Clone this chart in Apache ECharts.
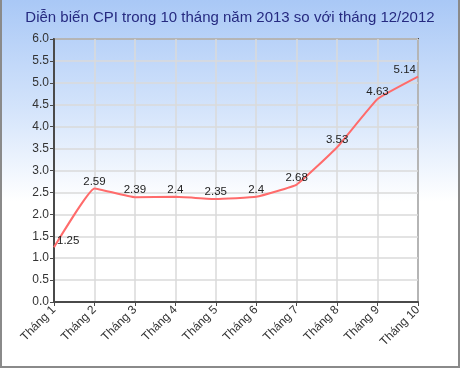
<!DOCTYPE html>
<html><head><meta charset="utf-8">
<script src="https://cdn.jsdelivr.net/npm/echarts@6/dist/echarts.min.js"></script>
<style>
html,body{margin:0;padding:0;}
#c{position:absolute;left:0;top:0;width:456px;height:366px;border-left:2px solid #8a8a8a;border-right:2px solid #8a8a8a;border-bottom:2px solid #8a8a8a;
background:linear-gradient(to bottom,#a9c8f6 0%,#d4e4fb 30%,#ffffff 55%,#ffffff 100%);}
</style></head>
<body><div id="c"></div>
<script>
var titleText = 'Diễn biến CPI trong 10 tháng năm 2013 so với tháng 12/2012';
var categories = ['Tháng 1','Tháng 2','Tháng 3','Tháng 4','Tháng 5','Tháng 6','Tháng 7','Tháng 8','Tháng 9','Tháng 10'];
var cpiValues = [1.25, 2.59, 2.39, 2.4, 2.35, 2.4, 2.68, 3.53, 4.63, 5.14];

var chart = echarts.init(document.getElementById('c'), null, {renderer:'canvas'});
var data = cpiValues.map(function(v,i){
  var d = {value:v};
  if(i===0){ d.label = {position:'right', distance:2, offset:[0,-6]}; }
  if(i===9){ d.label = {position:'left', distance:1, offset:[0,-7]}; }
  return d;
});
chart.setOption({
  backgroundColor:'transparent',
  animation:false,
  title:{text:titleText,left:'center',top:5,textStyle:{fontFamily:'Liberation Sans, Arial',fontSize:15,fontWeight:'normal',color:'#262a80'}},
  grid:{left:52,right:40,top:39,bottom:64,show:true,borderColor:'#4a4a4a',borderWidth:2,backgroundColor:'transparent'},
  xAxis:{type:'category',data:categories,boundaryGap:false,
    axisLine:{lineStyle:{color:'#4a4a4a',width:2}},
    axisTick:{show:true,length:4,lineStyle:{color:'#4a4a4a'}},
    splitLine:{show:true,lineStyle:{color:'#dadada',width:1.5}},
    axisLabel:{rotate:45,fontSize:12,color:'#333',fontFamily:'Liberation Sans, Arial',margin:6,interval:0}},
  yAxis:{type:'value',min:0,max:6,interval:0.5,
    axisLine:{show:true,lineStyle:{color:'#4a4a4a',width:2}},
    axisTick:{show:true,length:4,lineStyle:{color:'#4a4a4a'}},
    splitLine:{show:true,lineStyle:{color:'#dadada',width:1.5}},
    axisLabel:{fontSize:12,color:'#333',fontFamily:'Liberation Sans, Arial',margin:5,formatter:function(v){return v.toFixed(1);}}},
  series:[{type:'line',data:data,smooth:0.1,symbol:'circle',symbolSize:2,showSymbol:true,
    itemStyle:{color:'rgba(255,107,107,0)',borderWidth:0},
    lineStyle:{color:'#ff6b6b',width:2},
    label:{show:true,position:'top',distance:0,fontSize:11.5,color:'#222',fontFamily:'Liberation Sans, Arial',
      formatter:function(p){return String(p.value);}}}]
});
</script></body></html>
